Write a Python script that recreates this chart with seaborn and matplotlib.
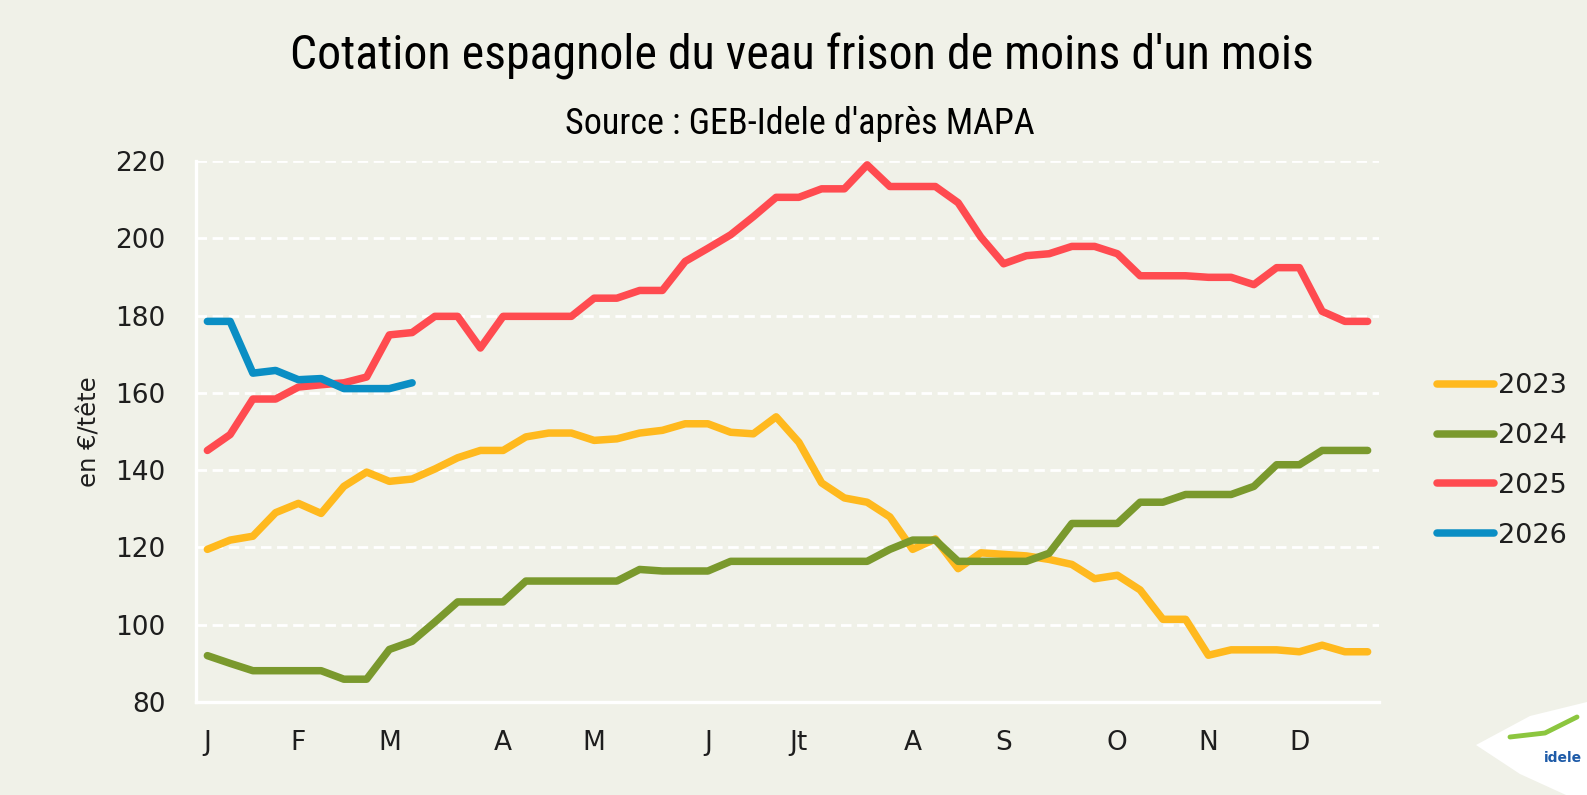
import numpy as np
import pandas as pd
import matplotlib
matplotlib.use("Agg")
import matplotlib.pyplot as plt
from matplotlib import font_manager
from matplotlib.patches import Polygon
from matplotlib.lines import Line2D
import seaborn as sns

# ---------------- data ----------------
weeks = list(range(52))
month_pos = [0, 4, 8, 13, 17, 22, 26, 31, 35, 40, 44, 48]
month_labels = ["J", "F", "M", "A", "M", "J", "Jt", "A", "S", "O", "N", "D"]

y2023 = [119.5, 121.9, 122.9, 129.0, 131.4, 128.8, 135.8, 139.5, 137.1, 137.7,
         140.3, 143.2, 145.1, 145.1, 148.6, 149.6, 149.6, 147.7, 148.1, 149.6,
         150.3, 152.0, 152.0, 149.8, 149.4, 153.8, 147.2, 136.7, 132.8, 131.7,
         127.9, 119.5, 122.2, 114.5, 118.6, 118.2, 117.8, 116.9, 115.6, 111.9,
         112.8, 109.0, 101.4, 101.4, 92.1, 93.5, 93.5, 93.5, 93.0, 94.7,
         93.0, 93.0]
y2024 = [92.0, 90.0, 88.1, 88.1, 88.1, 88.1, 85.9, 85.9, 93.6, 95.7,
         100.7, 105.9, 105.9, 105.9, 111.3, 111.3, 111.3, 111.3, 111.3, 114.3,
         113.9, 113.9, 113.9, 116.4, 116.4, 116.4, 116.4, 116.4, 116.4, 116.4,
         119.5, 121.9, 121.9, 116.4, 116.4, 116.4, 116.4, 118.5, 126.2, 126.2,
         126.2, 131.7, 131.7, 133.7, 133.7, 133.7, 135.8, 141.4, 141.4, 145.1,
         145.1, 145.1]
y2025 = [145.1, 149.2, 158.4, 158.4, 161.5, 162.1, 162.6, 164.1, 175.0, 175.6,
         179.8, 179.8, 171.6, 179.8, 179.8, 179.8, 179.8, 184.5, 184.5, 186.5,
         186.5, 194.0, 197.4, 200.9, 205.6, 210.6, 210.6, 212.8, 212.8, 219.0,
         213.4, 213.4, 213.4, 209.2, 200.3, 193.4, 195.5, 196.0, 197.9, 197.9,
         196.0, 190.3, 190.3, 190.3, 189.9, 189.9, 188.0, 192.4, 192.4, 181.1,
         178.5, 178.5]
y2026 = [178.5, 178.5, 165.1, 165.8, 163.4, 163.7, 161.1, 161.1, 161.1, 162.6]

years = ["2023", "2024", "2025", "2026"]
colors = ["#FFB91E", "#7A992D", "#FF4B50", "#0A8EC4"]

# ---------------- fonts ----------------
def pick(cands, default="DejaVu Sans"):
    for c in cands:
        try:
            font_manager.findfont(font_manager.FontProperties(family=c), fallback_to_default=False)
            return c
        except Exception:
            pass
    return default

sns.set_theme(style="white")
title_font = pick(["Liberation Sans Narrow", "Roboto Condensed", "Open Sans Condensed"])
plt.rcParams["font.family"] = ["DejaVu Sans"]

BG = "#F0F1E8"
TXT = "#1E1E1E"
LW = 5.4

frames = []
for yr, vals in zip(years, [y2023, y2024, y2025, y2026]):
    frames.append(pd.DataFrame({"semaine": weeks[:len(vals)], "prix": vals, "annee": yr}))
df = pd.concat(frames, ignore_index=True)

fig = plt.figure(figsize=(15.87, 7.95), dpi=100, facecolor=BG)
ax = fig.add_axes([196 / 1587, 1 - 702 / 795, (1379 - 196) / 1587, (702 - 161) / 795])
ax.set_facecolor(BG)

sns.lineplot(data=df, x="semaine", y="prix", hue="annee", hue_order=years,
             palette=dict(zip(years, colors)), linewidth=LW, sort=False,
             ax=ax, legend=False, zorder=3)
for ln in ax.get_lines():
    ln.set_solid_capstyle("round")
    ln.set_solid_joinstyle("round")

ax.set_xlim(-0.5, 51.5)
ax.set_ylim(80, 220)
ax.set_yticks(np.arange(80, 221, 20))
ax.yaxis.grid(True, color="white", linewidth=2.0, linestyle=(0, (3.8, 2.0)), zorder=1)
ax.xaxis.grid(False)
ax.set_axisbelow(True)

for s in ["top", "right"]:
    ax.spines[s].set_visible(False)
for s in ["left", "bottom"]:
    ax.spines[s].set_visible(True)
    ax.spines[s].set_color("white")
    ax.spines[s].set_linewidth(2.4)

ax.set_xticks(month_pos)
ax.set_xticklabels(month_labels)
ax.set_xticks(np.arange(-0.5, 52, 1), minor=True)
ax.tick_params(axis="x", which="major", length=0, pad=20, labelsize=19, labelcolor=TXT)
ax.tick_params(axis="x", which="minor", length=7.5, width=2.2, color="white", direction="out")
ax.tick_params(axis="y", which="major", length=0, pad=22, labelsize=19, labelcolor=TXT)
ax.set_xlabel("")
ax.set_ylabel("en €/tête", fontsize=17.5, color=TXT)
ax.yaxis.set_label_coords(-0.0795, 0.5)

# legend
handles = [Line2D([0], [0], color=c, lw=LW, solid_capstyle="round") for c in colors]
fig.legend(handles, years, loc="center left", bbox_to_anchor=(1437 / 1587, 1 - 461 / 795),
           frameon=False, fontsize=19.5, handlelength=2.1, handletextpad=0.15,
           labelspacing=0.88, borderpad=0, borderaxespad=0, labelcolor=TXT)

# titles
fig.text(802 / 1587, 1 - 56 / 795, "Cotation espagnole du veau frison de moins d'un mois",
         ha="center", va="center", fontsize=34.5, color="black", family=[title_font, "DejaVu Sans"])
fig.text(800 / 1587, 1 - 124 / 795, "Source : GEB-Idele d'après MAPA",
         ha="center", va="center", fontsize=26, color="black", family=[title_font, "DejaVu Sans"])

# logo (simplified)
W, H = 1587, 795
pts = [(1476, 745), (1530, 716), (1587, 702), (1587, 795), (1566, 795), (1520, 774)]
fig.patches.append(Polygon([(x / W, 1 - y / H) for x, y in pts], closed=True,
                           transform=fig.transFigure, facecolor="white", edgecolor="none"))
fig.add_artist(Line2D([1510 / W, 1545 / W, 1577 / W], [1 - 737 / H, 1 - 733 / H, 1 - 717 / H],
                      transform=fig.transFigure, color="#8CC63F", lw=3.5))
fig.text(1563 / W, 1 - 758 / H, "idele", ha="center", va="center", fontsize=10,
         fontweight="bold", color="#1E5BA8")

fig.savefig("out.png", dpi=100, facecolor=BG)
